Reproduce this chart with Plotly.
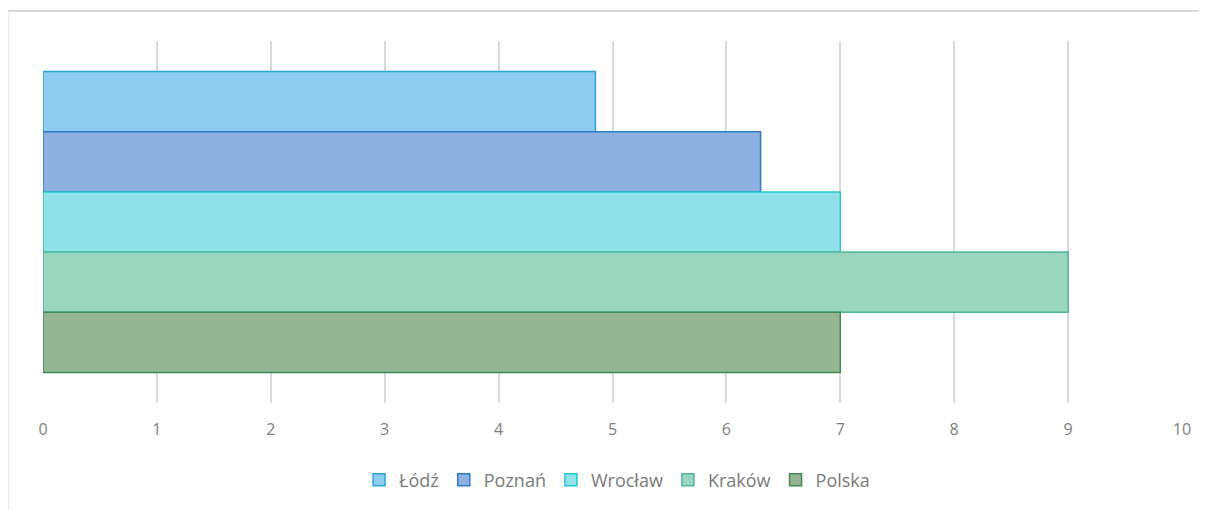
import plotly.graph_objects as go

categories = [""]
series_names = ["Łódź", "Poznań", "Wrocław", "Kraków", "Polska"]
series_values = [[4.85], [6.3], [7.0], [9.0], [7.0]]
fill_colors = ["#8ecdf1", "#8eb1e1", "#91e2e8", "#9ad5bd", "#96b592"]
line_colors = ["#2aa5dc", "#2c7cc8", "#25c6d3", "#4db896", "#3f8a56"]
x_ticks = list(range(0, 11))

fig = go.Figure()
for name, vals, fc, lc in zip(series_names, series_values, fill_colors, line_colors):
    fig.add_trace(go.Bar(
        y=categories, x=vals, name=name, orientation="h",
        marker=dict(color=fc, line=dict(color=lc, width=1.5)),
    ))

fig.update_layout(
    width=1199, height=502,
    margin=dict(l=34.5, r=25, t=33, b=107),
    paper_bgcolor="white", plot_bgcolor="white",
    barmode="group", bargap=0.168, bargroupgap=0,
    font=dict(family="Open Sans, sans-serif", color="#7f7f7f"),
    showlegend=True,
    legend=dict(orientation="h", x=0.504, xanchor="center", y=-0.213, yanchor="middle",
                font=dict(size=18, color="#7a7a7a"), itemwidth=30,
                tracegroupgap=0),
    xaxis=dict(range=[0, 10], tickvals=x_ticks, showgrid=True, gridcolor="#d9d9d9",
               gridwidth=1.5, zeroline=False, showline=False,
               tickfont=dict(size=16, color="#808080"), ticklabelstandoff=15,
               fixedrange=True),
    yaxis=dict(autorange="reversed", showticklabels=False, showgrid=False,
               zeroline=False, showline=False),
    shapes=[dict(type="rect", xref="paper", yref="paper",
                 x0=-0.0312, x1=1.05, y0=-0.4, y1=1.083,
                 line=dict(color="#d9d9d9", width=2), fillcolor="rgba(0,0,0,0)",
                 layer="below")],
)

fig.write_html("out.html")
